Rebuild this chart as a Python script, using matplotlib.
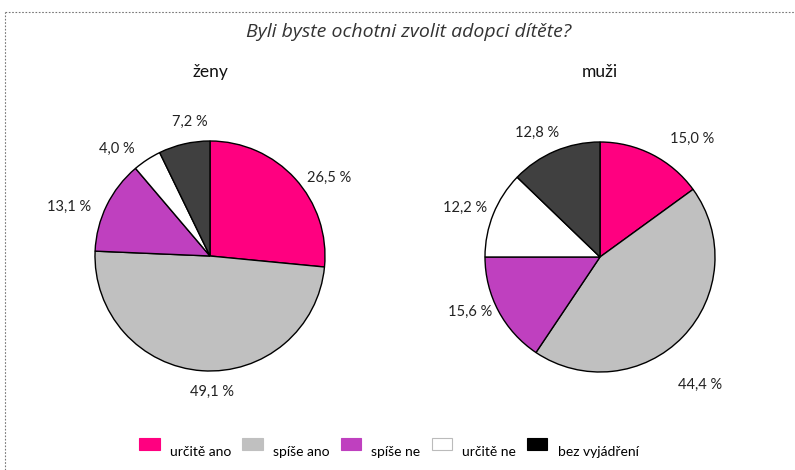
import matplotlib
matplotlib.use('Agg')
import numpy as np
import matplotlib.pyplot as plt
from matplotlib.patches import Patch
from matplotlib.lines import Line2D

plt.rcParams['font.family'] = ['Lato', 'DejaVu Sans']

# data
categories = ['určitě ano', 'spíše ano', 'spíše ne', 'určitě ne', 'bez vyjádření']
zeny = [26.5, 49.1, 13.1, 4.0, 7.2]
muzi = [15.0, 44.4, 15.6, 12.2, 12.8]
groups = ['ženy', 'muži']
title = 'Byli byste ochotni zvolit adopci dítěte?'

pie_colors = ['#FF0080', '#C0C0C0', '#BF40BF', '#FFFFFF', '#404040']
legend_colors = ['#FF0080', '#C0C0C0', '#BF40BF', '#FFFFFF', '#000000']

# label placement (distance in radii, angle in degrees), as Excel's best fit put them
zeny_lbl = [(1.24, 33), (1.18, -89), (1.30, 161), (1.23, 131), (1.18, 98.5)]
muzi_lbl = [(1.30, 52), (1.41, -52), (1.23, 203), (1.25, 160), (1.21, 117)]

W, H = 795, 470
fig = plt.figure(figsize=(W / 100, H / 100), dpi=100)

def fmt(v):
    return ('%.1f' % v).replace('.', ',') + ' %'

def draw_pie(cx, cy, r, values, lbl, name):
    half = 1.25 * r
    ax = fig.add_axes([(cx - half) / W, (H - cy - half) / H, 2 * half / W, 2 * half / H])
    ax.pie(values, colors=pie_colors, startangle=90, counterclock=False,
           wedgeprops=dict(edgecolor='black', linewidth=1))
    for v, (d, a) in zip(values, lbl):
        t = np.deg2rad(a)
        ax.text(d * np.cos(t), d * np.sin(t), fmt(v), ha='center', va='center',
                fontsize=10.5, color='#222222', clip_on=False)
    ax.set_aspect('equal')
    fig.text(cx / W, 1 - 72 / H, name, ha='center', va='center', fontsize=12.5, color='#111111')
    return ax

draw_pie(210, 256, 115, zeny, zeny_lbl, groups[0])
draw_pie(600, 257, 115, muzi, muzi_lbl, groups[1])

fig.text(409 / W, 1 - 32 / H, title, ha='center', va='center', fontsize=14,
         style='italic', color='#333333', family=['Open Sans', 'DejaVu Sans'])

# dotted frame
fig.add_artist(Line2D([5 / W, 1], [1 - 12 / H, 1 - 12 / H], transform=fig.transFigure,
                      color='#777777', linestyle=(0, (1.5, 1.5)), linewidth=0.8))
fig.add_artist(Line2D([5 / W, 5 / W], [0, 1 - 12 / H], transform=fig.transFigure,
                      color='#777777', linestyle=(0, (1.5, 1.5)), linewidth=0.8))

handles = [Patch(facecolor=c, edgecolor='#bbbbbb' if c == '#FFFFFF' else c, linewidth=0.8)
           for c in legend_colors]
leg = fig.legend(handles, categories, loc='center', bbox_to_anchor=(389 / W, 1 - 444 / H),
                 ncol=5, frameon=False, fontsize=10, handlelength=1.45, handleheight=0.95,
                 handletextpad=0.75, columnspacing=0.8)
# Excel puts the legend text a bit below the swatches
for t in leg.get_texts():
    t.set_y(-8)

fig.savefig('out.png', dpi=100)
